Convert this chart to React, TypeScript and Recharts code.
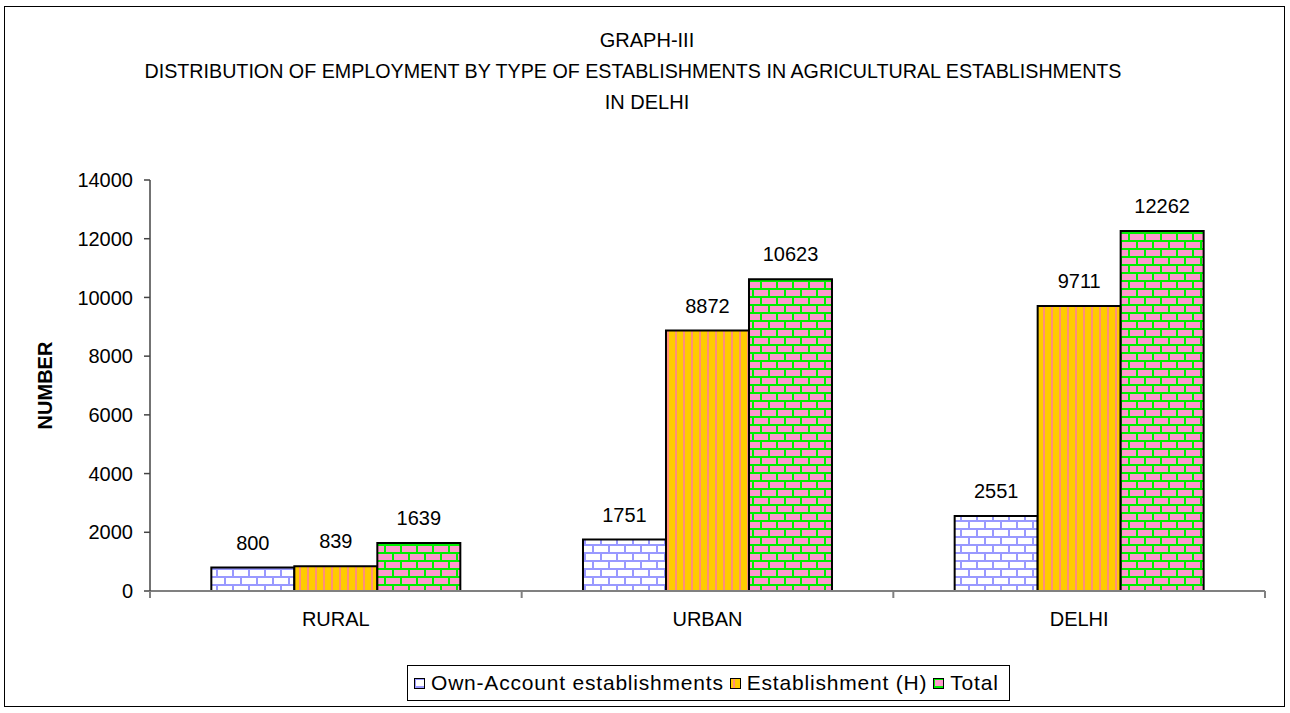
import React from "react";
import { BarChart, Bar, XAxis, YAxis, LabelList } from "recharts";

// categories and series
const categories = ["RURAL", "URBAN", "DELHI"];
const ownAccount = [800, 1751, 2551];
const establishmentH = [839, 8872, 9711];
const total = [1639, 10623, 12262];
const yTicks = [0, 2000, 4000, 6000, 8000, 10000, 12000, 14000];

const titleLines = [
  "GRAPH-III",
  "DISTRIBUTION OF EMPLOYMENT BY TYPE OF ESTABLISHMENTS IN AGRICULTURAL ESTABLISHMENTS",
  "IN DELHI",
];

const series = [
  { key: "own", name: "Own-Account establishments", pattern: "url(#ownBrick)" },
  { key: "estH", name: "Establishment (H)", pattern: "url(#estStripe)" },
  { key: "total", name: "Total", pattern: "url(#totalBrick)" },
];

const data = categories.map((c, i) => ({
  name: c,
  own: ownAccount[i],
  estH: establishmentH[i],
  total: total[i],
}));

const FONT = '"Liberation Sans", Arial, sans-serif';

// brick pattern: two staggered rows per tile
function BrickPattern({ id, bg, mortar }: { id: string; bg: string; mortar: string }) {
  return (
    <pattern id={id} width={16} height={16} patternUnits="userSpaceOnUse">
      <rect width={16} height={16} fill={bg} />
      <rect x={0} y={0} width={16} height={2} fill={mortar} />
      <rect x={0} y={8} width={16} height={2} fill={mortar} />
      <rect x={0} y={0} width={2} height={8} fill={mortar} />
      <rect x={8} y={8} width={2} height={8} fill={mortar} />
    </pattern>
  );
}

function Patterns() {
  return (
    <defs>
      <BrickPattern id="ownBrick" bg="#ffffff" mortar="#9999ff" />
      <BrickPattern id="totalBrick" bg="#ff99cc" mortar="#00ee00" />
      <pattern id="estStripe" width={8} height={8} patternUnits="userSpaceOnUse">
        <rect width={8} height={8} fill="#ffcc00" />
        <rect x={3} y={0} width={2} height={8} fill="#ff8f7a" />
      </pattern>
    </defs>
  );
}

// label centred under the band, tick marks on the band edges
const CategoryTick = (props: any) => {
  const { x, y, payload, index } = props;
  const half = payload && payload.offset ? payload.offset : 186;
  return (
    <g>
      <line x1={x + half} y1={y} x2={x + half} y2={y + 7} stroke="#808080" strokeWidth={2} />
      {index === 0 && (
        <line x1={x - half} y1={y} x2={x - half} y2={y + 7} stroke="#808080" strokeWidth={2} />
      )}
      <text x={x} y={y + 21} dy="0.71em" textAnchor="middle" fontSize={20} fill="#000" fontFamily={FONT}>
        {payload.value}
      </text>
    </g>
  );
};

const LegendBox = () => (
  <div
    style={{
      position: "absolute",
      left: 407,
      top: 665,
      border: "1px solid #000",
      background: "#fff",
      display: "flex",
      alignItems: "center",
      height: 36,
      padding: "0 4px 0 6px",
      boxSizing: "border-box",
      fontFamily: FONT,
      fontSize: 21,
      letterSpacing: 0.8,
      whiteSpace: "nowrap",
    }}
  >
    {series.map((s) => (
      <span key={s.key} style={{ display: "flex", alignItems: "center", marginRight: 6 }}>
        <svg width={11} height={11} style={{ marginRight: 6 }}>
          <rect x={0.5} y={0.5} width={10} height={10} fill={s.pattern} stroke="#000" strokeWidth={1} />
        </svg>
        {s.name}
      </span>
    ))}
  </div>
);

export default function App() {
  return (
    <div style={{ position: "absolute", left: 0, top: 0, width: 1290, height: 713, background: "#fff" }}>
      <div
        style={{
          position: "absolute",
          left: 4,
          top: 6,
          width: 1281,
          height: 701,
          border: "1px solid #000",
          boxSizing: "border-box",
        }}
      />
      <svg width={1290} height={120} style={{ position: "absolute", left: 0, top: 0 }}>
        {titleLines.map((t, i) => (
          <text
            key={i}
            x={i === 1 ? 633 : 647}
            y={47 + i * 31}
            textAnchor="middle"
            fontSize={20}
            fontFamily={FONT}
            fill="#000"
            textLength={i === 1 ? 977 : undefined}
            lengthAdjust="spacingAndGlyphs"
          >
            {t}
          </text>
        ))}
      </svg>
      <div style={{ position: "absolute", left: 0, top: 0 }}>
        <BarChart
          width={1290}
          height={713}
          data={data}
          margin={{ top: 180, right: 25, bottom: 62, left: 38 }}
          barCategoryGap="16.5%"
          barGap={0}
        >
          <Patterns />
          <XAxis
            dataKey="name"
            axisLine={{ stroke: "#808080", strokeWidth: 2 }}
            tickLine={false}
            tickSize={0}
            tickMargin={0}
            tick={<CategoryTick />}
            height={60}
            interval={0}
          />
          <YAxis
            width={112}
            domain={[0, 14000]}
            ticks={yTicks}
            interval={0}
            axisLine={{ stroke: "#444", strokeWidth: 1.5 }}
            tickLine={{ stroke: "#444", strokeWidth: 1.5 }}
            tickSize={6}
            tickMargin={11}
            tick={{ fontSize: 20, fill: "#000", fontFamily: FONT }}
            label={{
              value: "NUMBER",
              angle: -90,
              position: "insideLeft",
              offset: 7,
              style: { textAnchor: "middle", fontSize: 20, fontWeight: "bold", fill: "#000", fontFamily: FONT },
            }}
          />
          {series.map((s) => (
            <Bar
              key={s.key}
              dataKey={s.key}
              name={s.name}
              fill={s.pattern}
              stroke="#000"
              strokeWidth={2}
              isAnimationActive={false}
            >
              <LabelList dataKey={s.key} position="top" offset={18} fontSize={20} fill="#000" fontFamily={FONT} />
            </Bar>
          ))}
        </BarChart>
      </div>
      <LegendBox />
    </div>
  );
}
